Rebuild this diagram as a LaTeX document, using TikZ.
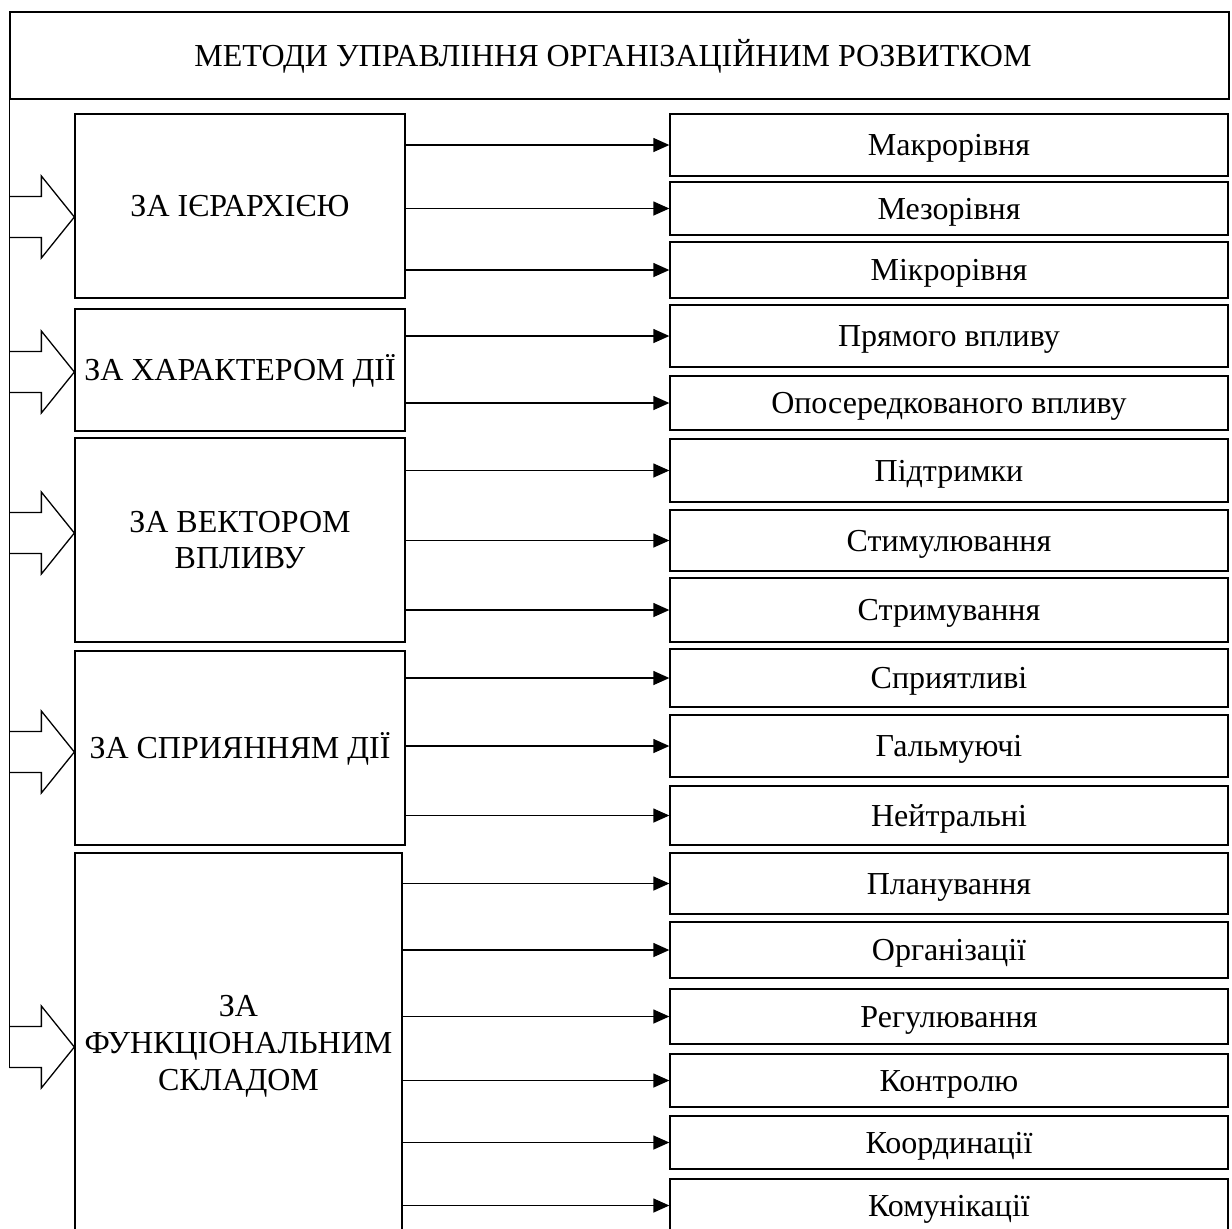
\documentclass[tikz,border=0pt]{standalone}
\usepackage{fontspec}
\setmainfont{Liberation Serif}
\usetikzlibrary{arrows.meta,calc}
\begin{document}
\begin{tikzpicture}[x=0.5pt,y=-0.5pt,line width=0.65pt,
    every node/.style={font=\fontsize{16}{18.4}\selectfont},
    caps/.style={text height=10.6pt,text depth=0pt},
    group/.style={draw,align=center,minimum width=165pt,inner sep=1pt},
    kind/.style={draw,caps,minimum width=279pt,inner sep=0pt},
    link/.style={-{Triangle[length=8pt,width=7pt]}}]
  \clip (0,0) rectangle (1232,1228);
  \node[draw,minimum width=609.5pt,minimum height=43.5pt] (title) at (619.5,55.5) {};
  \node[caps] (titletext) at (613,56) {МЕТОДИ УПРАВЛІННЯ ОРГАНІЗАЦІЙНИМ РОЗВИТКОМ};

  % groups of methods
  \node[group,caps,minimum height=92pt] (hier) at (240,206) {ЗА ІЄРАРХІЄЮ};
  \node[group,caps,minimum height=61pt] (nature) at (240,370) {ЗА ХАРАКТЕРОМ ДІЇ};
  \node[group,minimum height=102pt] (vector) at (240,540) {ЗА ВЕКТОРОМ\\ВПЛИВУ};
  \node[group,caps,minimum height=97pt] (favour) at (240,748) {ЗА СПРИЯННЯМ ДІЇ};
  \node[group,minimum width=163.5pt,minimum height=193.5pt] (func) at (238.5,1046.5)
    {ЗА\\ФУНКЦІОНАЛЬНИМ\\СКЛАДОМ};

  % kinds
  \node[kind,minimum height=31pt] (makro) at (949,145) {Макрорівня};
  \node[kind,minimum height=26.5pt] (mezo) at (949,208.5) {Мезорівня};
  \node[kind,minimum height=28pt] (mikro) at (949,270) {Мікрорівня};
  \node[kind,minimum height=31pt] (direct) at (949,336) {Прямого впливу};
  \node[kind,minimum height=27pt] (indirect) at (949,403) {Опосередкованого впливу};
  \node[kind,minimum height=31.5pt] (support) at (949,470.5) {Підтримки};
  \node[kind,minimum height=30.5pt] (stimul) at (949,540.5) {Стимулювання};
  \node[kind,minimum height=32pt] (restrain) at (949,610) {Стримування};
  \node[kind,minimum height=29pt] (favourable) at (949,678) {Сприятливі};
  \node[kind,minimum height=31pt] (braking) at (949,746) {Гальмуючі};
  \node[kind,minimum height=29.5pt] (neutral) at (949,815.5) {Нейтральні};
  \node[kind,minimum height=30.5pt] (plan) at (949,883.5) {Планування};
  \node[kind,minimum height=28pt] (organ) at (949,950) {Організації};
  \node[kind,minimum height=27.5pt] (regul) at (949,1016.5) {Регулювання};
  \node[kind,minimum height=26.5pt] (control) at (949,1080.5) {Контролю};
  \node[kind,minimum height=26.5pt] (coord) at (949,1142.5) {Координації};
  \node[kind,minimum height=26.5pt] (commun) at (949,1205.5) {Комунікації};

  \foreach \g/\k in {hier/makro,hier/mezo,hier/mikro,nature/direct,nature/indirect,
      vector/support,vector/stimul,vector/restrain,favour/favourable,favour/braking,
      favour/neutral,func/plan,func/organ,func/regul,func/control,func/coord,func/commun}
    \draw[link] (\g.east |- \k.west) -- (\k.west);

  % spine with block arrows
  \draw (title.north west) -- ($(func.west)+(-65,21)$);
  \foreach \g/\d in {hier/11,nature/2,vector/-7,favour/4,func/0.5}
    \draw ($(\g.west)+(-65,\d-20.5)$) -- ++(32,0) -- ++(0,-20.5) -- ++(33,41)
      -- ++(-33,41) -- ++(0,-20.5) -- ++(-32,0);
\end{tikzpicture}
\end{document}
